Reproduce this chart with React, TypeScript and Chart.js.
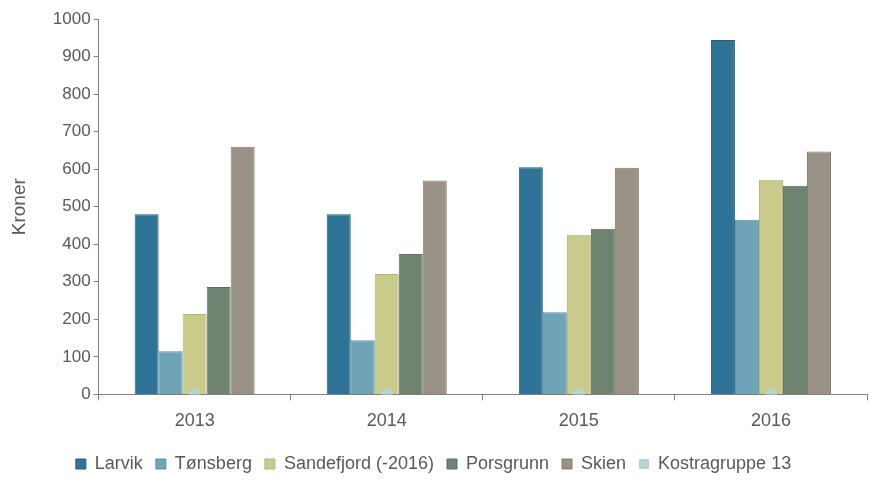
import React, { useEffect, useRef } from "react";
import { Chart, registerables } from "chart.js";

Chart.register(...registerables);

const categories = ["2013", "2014", "2015", "2016"];
const larvik = [480, 480, 605, 944];
const tonsberg = [115, 144, 219, 465];
const sandefjord = [214, 321, 425, 572];
const porsgrunn = [286, 374, 441, 556];
const skien = [660, 570, 604, 647];
const kostragruppe13 = [0, 0, 0, 0];
const yTicks = [0, 100, 200, 300, 400, 500, 600, 700, 800, 900, 1000];

const FONT = "'Liberation Sans', Arial, sans-serif";
const TEXT = "#595959";

export default function App() {
  const ref = useRef<HTMLCanvasElement>(null);
  useEffect(() => {
    const bar = (label: string, data: number[], bg: string, bd: string) => ({
      type: "bar" as const,
      label,
      data,
      backgroundColor: bg,
      borderColor: bd,
      borderWidth: 1,
      order: 2,
    });
    const chart = new Chart(ref.current!, {
      type: "bar",
      data: {
        labels: categories,
        datasets: [
          bar("Larvik", larvik, "#2e7497", "#245d79"),
          bar("Tønsberg", tonsberg, "#6fa3b8", "#5a8ea3"),
          bar("Sandefjord (-2016)", sandefjord, "#c9cb8b", "#b3b577"),
          bar("Porsgrunn", porsgrunn, "#6e8470", "#5c705e"),
          bar("Skien", skien, "#9b9286", "#857d72"),
          {
            type: "line" as const,
            label: "Kostragruppe 13",
            data: kostragruppe13,
            showLine: false,
            backgroundColor: "#b4d5d2",
            borderColor: "#b4d5d2",
            pointRadius: 6,
            pointHoverRadius: 6,
            borderWidth: 0,
            order: 1,
          } as any,
        ],
      },
      options: {
        responsive: false,
        animation: false,
        maintainAspectRatio: false,
        layout: { padding: { top: 19, right: 9, left: 0, bottom: 11 } },
        datasets: { bar: { categoryPercentage: 0.625, barPercentage: 1 } },
        plugins: {
          legend: {
            position: "bottom",
            labels: {
              boxWidth: 10,
              boxHeight: 10,
              padding: 13,
              color: TEXT,
              font: { family: FONT, size: 18 },
              sort: (a: any, b: any) => a.datasetIndex - b.datasetIndex,
            },
          },
          tooltip: { enabled: false },
        },
        scales: {
          x: {
            offset: true,
            grid: {
              drawOnChartArea: false,
              drawTicks: true,
              tickLength: 6,
              color: "#7f7f7f",
              offset: true,
            },
            border: { color: "#7f7f7f", width: 1 },
            ticks: { color: TEXT, font: { family: FONT, size: 18 }, padding: 10 },
          },
          y: {
            min: 0,
            max: 1000,
            afterBuildTicks: (axis: any) => {
              axis.ticks = yTicks.map((v) => ({ value: v }));
            },
            ticks: {
              color: TEXT,
              font: { family: FONT, size: 17 },
              padding: 3,
              callback: (v: any) => String(v),
            },
            grid: { drawOnChartArea: false, tickLength: 5, color: "#7f7f7f" },
            border: { color: "#7f7f7f", width: 1 },
            title: {
              display: true,
              text: "Kroner",
              color: TEXT,
              font: { family: FONT, size: 19 },
              padding: { top: 8, bottom: 19 },
            },
          },
        },
      },
    });
    return () => chart.destroy();
  }, []);
  return (
    <div style={{ position: "fixed", left: 0, top: 0, width: 876, height: 494, background: "#fff" }}>
      <canvas ref={ref} width={876} height={494} style={{ width: 876, height: 494 }} />
    </div>
  );
}
